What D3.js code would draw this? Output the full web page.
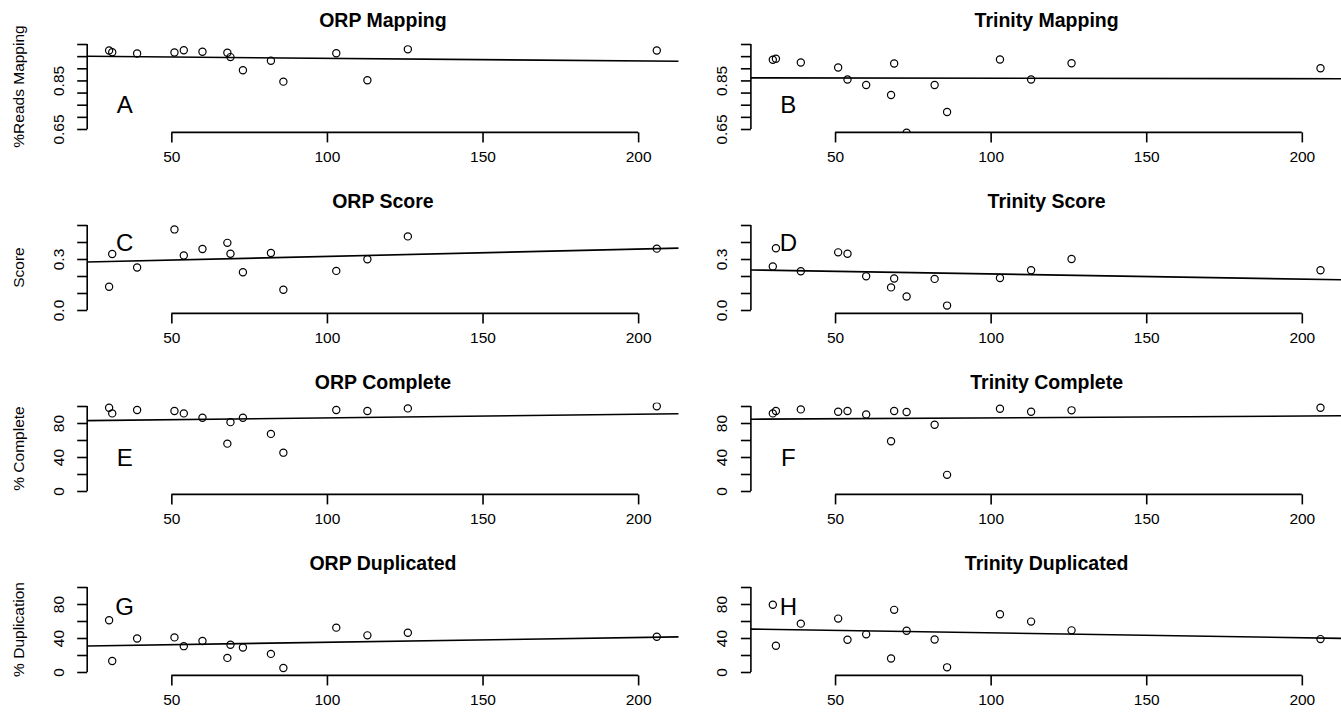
<!doctype html>
<html lang="en">
<head>
  <meta charset="utf-8">
  <title>ORP vs Trinity</title>
  <script src="https://cdn.jsdelivr.net/npm/d3@7"></script>
  <style>
    body { margin: 0; background: #fff; }
    svg { display: block; font-family: "Liberation Sans", Arial, sans-serif; }
    .pt { fill: none; stroke: #000; stroke-width: 1.2px; }
    .fit { stroke: #000; stroke-width: 1.6px; }
    .axisline { stroke: #000; stroke-width: 1.6px; }
    .tick line { stroke: #000; stroke-width: 1.6px; }
  </style>
</head>
<body>
<div id="chart"></div>
<script>
// shared x values (one per sample)
var xLength = [30, 31, 39, 51, 54, 60, 68, 69, 73, 82, 86, 103, 113, 126, 206];

var orpMapping      = [0.973, 0.966, 0.961, 0.965, 0.974, 0.968, 0.964, 0.946, 0.892, 0.931, 0.845, 0.962, 0.851, 0.978, 0.973];
var trinityMapping  = [0.935, 0.939, 0.924, 0.903, 0.854, 0.831, 0.790, 0.920, 0.635, 0.831, 0.720, 0.936, 0.854, 0.921, 0.900];
var orpScore        = [0.137, 0.329, 0.250, 0.474, 0.321, 0.359, 0.395, 0.331, 0.222, 0.335, 0.119, 0.230, 0.298, 0.433, 0.361];
var trinityScore    = [0.256, 0.363, 0.228, 0.339, 0.331, 0.198, 0.133, 0.185, 0.079, 0.183, 0.026, 0.188, 0.234, 0.300, 0.234];
var orpComplete     = [98.0, 91.3, 95.3, 94.1, 91.3, 86.2, 55.7, 81.0, 86.2, 67.2, 45.1, 95.3, 94.1, 97.2, 99.6];
var trinityComplete = [91.3, 94.1, 96.0, 93.3, 94.1, 90.1, 58.5, 94.1, 92.9, 78.0, 19.0, 96.8, 93.3, 94.9, 98.0];
var orpDuplicated   = [60.9, 13.0, 39.5, 40.7, 30.4, 36.4, 16.6, 32.0, 28.9, 21.3, 4.7, 52.2, 43.1, 46.2, 41.5];
var trinityDuplicated = [79.1, 30.8, 56.9, 62.8, 37.9, 44.3, 15.8, 73.1, 48.6, 38.3, 5.5, 68.0, 59.3, 49.0, 38.7];

// axis ticks and which ones carry a label
var xTicks = [50, 100, 150, 200];
var mappingTicks = [0.65, 0.70, 0.75, 0.80, 0.85, 0.90, 0.95, 1.00];
var mappingTickLabels = ["0.65", "", "", "", "0.85", "", "", ""];
var scoreTicks = [0, 0.1, 0.2, 0.3, 0.4, 0.5];
var scoreTickLabels = ["0.0", "", "", "0.3", "", ""];
var pctTicks = [0, 20, 40, 60, 80, 100];
var pctTickLabels = ["0", "", "40", "", "80", ""];

var titles = ["ORP Mapping", "Trinity Mapping", "ORP Score", "Trinity Score",
              "ORP Complete", "Trinity Complete", "ORP Duplicated", "Trinity Duplicated"];
var yLabels = ["%Reads Mapping", "Score", "% Complete", "% Duplication"];
var letters = ["A", "B", "C", "D", "E", "F", "G", "H"];
var letterY = [0.75, 0.4, 39, 77];

var series = [orpMapping, trinityMapping, orpScore, trinityScore,
              orpComplete, trinityComplete, orpDuplicated, trinityDuplicated];
var rowTicks = [mappingTicks, scoreTicks, pctTicks, pctTicks];
var rowTickLabels = [mappingTickLabels, scoreTickLabels, pctTickLabels, pctTickLabels];

var width = 1341, height = 715;
var colLeft = [87.2, 750.9],
    plotW = 591.5,
    span = 85,          // pixel height of ylim range
    rowStep = 181,
    firstBottom = 129;

var svg = d3.select("#chart").append("svg")
    .attr("width", width)
    .attr("height", height);

// R-style 4% padding on x
var xExt = d3.extent(xLength), xPad = (xExt[1] - xExt[0]) * 0.04;

function fit(xs, ys) {
  var mx = d3.mean(xs), my = d3.mean(ys), sxy = 0, sxx = 0;
  xs.forEach(function(v, i) { sxy += (v - mx) * (ys[i] - my); sxx += (v - mx) * (v - mx); });
  var b = sxy / sxx;
  return { a: my - b * mx, b: b };
}

series.forEach(function(ys, k) {
  var row = Math.floor(k / 2), col = k % 2;
  var ticks = rowTicks[row], labs = rowTickLabels[row];
  var bottom = firstBottom + rowStep * row;

  var x = d3.scaleLinear()
      .domain([xExt[0] - xPad, xExt[1] + xPad])
      .range([colLeft[col], colLeft[col] + plotW]);
  var y = d3.scaleLinear()
      .domain([ticks[0], ticks[ticks.length - 1]])
      .range([bottom, bottom - span]);
  var pad = span * 0.04;
  var top = y.range()[1] - pad, bot = bottom + pad;

  var g = svg.append("g");

  g.append("clipPath").attr("id", "clip" + k)
    .append("rect")
      .attr("x", x.range()[0]).attr("y", top)
      .attr("width", plotW).attr("height", bot - top);

  // title
  g.append("text")
      .attr("x", x.range()[0] + plotW / 2)
      .attr("y", bottom - 102)
      .attr("text-anchor", "middle")
      .style("font-size", "19.5px")
      .style("font-weight", "bold")
      .text(titles[k]);

  // y axis
  var yAxis = g.append("g")
      .attr("transform", "translate(" + x.range()[0] + ",0)")
      .call(d3.axisLeft(y).tickValues(ticks).tickSize(10)
        .tickFormat(function(d, i) { return labs[i]; }));
  yAxis.select(".domain").remove();
  yAxis.append("line").attr("class", "axisline")
      .attr("y1", y(ticks[0])).attr("y2", y(ticks[ticks.length - 1]));
  yAxis.selectAll("text")
      .attr("transform", "rotate(-90)")
      .attr("x", 0).attr("y", -23.5).attr("dy", null)
      .attr("text-anchor", "middle")
      .attr("fill", "#000")
      .style("font-size", "15.5px")
      .style("font-family", "'Liberation Sans', Arial, sans-serif");

  // x axis
  var xAxis = g.append("g")
      .attr("transform", "translate(0," + bot + ")")
      .call(d3.axisBottom(x).tickValues(xTicks).tickSize(10));
  xAxis.select(".domain").remove();
  xAxis.append("line").attr("class", "axisline")
      .attr("x1", x(xTicks[0])).attr("x2", x(xTicks[xTicks.length - 1]));
  xAxis.selectAll("text")
      .attr("y", 29.5).attr("dy", null)
      .attr("fill", "#000")
      .style("font-size", "15.5px")
      .style("font-family", "'Liberation Sans', Arial, sans-serif");

  // y label (left column only)
  if (col === 0) {
    g.append("text")
        .attr("transform", "translate(24," + ((top + bot) / 2) + ")rotate(-90)")
        .attr("text-anchor", "middle")
        .style("font-size", "15.5px")
        .text(yLabels[row]);
  }

  var plot = g.append("g").attr("clip-path", "url(#clip" + k + ")");

  // regression line
  var f = fit(xLength, ys), xd = x.domain();
  plot.append("line").attr("class", "fit")
      .attr("x1", x(xd[0])).attr("y1", y(f.a + f.b * xd[0]))
      .attr("x2", x(xd[1])).attr("y2", y(f.a + f.b * xd[1]));

  plot.selectAll("circle")
    .data(ys)
    .enter().append("circle")
      .attr("class", "pt")
      .attr("cx", function(d, i) { return x(xLength[i]); })
      .attr("cy", function(d) { return y(d); })
      .attr("r", 3.6);

  // panel letter
  g.append("text")
      .attr("x", x(35))
      .attr("y", y(letterY[row]))
      .attr("text-anchor", "middle")
      .attr("dominant-baseline", "central")
      .style("font-size", "24px")
      .text(letters[k]);
});
</script>
</body>
</html>
